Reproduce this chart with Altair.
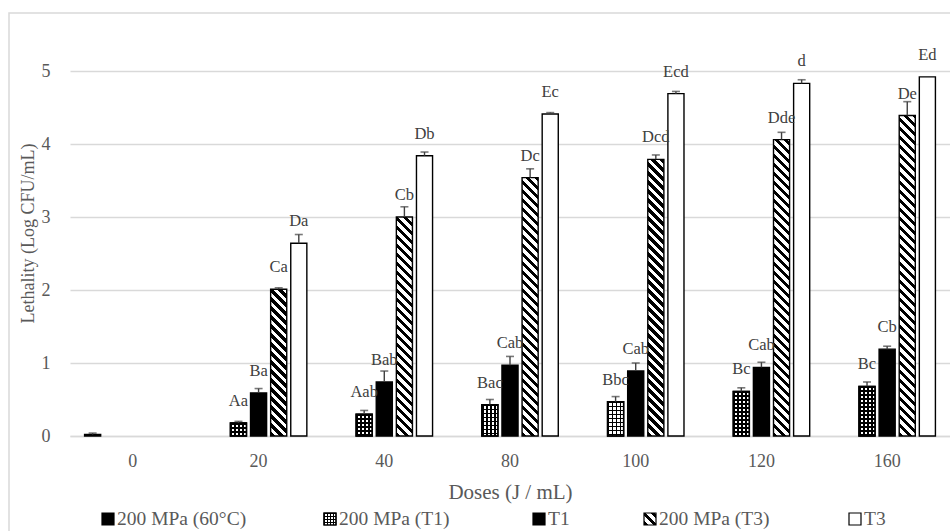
import altair as alt

# ---------------- data ----------------
doses = ["0", "20", "40", "80", "100", "120", "160"]
series = ["200 MPa (60°C)", "200 MPa (T1)", "T1", "200 MPa (T3)", "T3"]

val_60c = [0.02, None, None, None, None, None, None]
err_60c = [0.02, None, None, None, None, None, None]
lab_60c = ["", None, None, None, None, None, None]

val_p_t1 = [None, 0.18, 0.30, 0.43, 0.47, 0.61, 0.68]
err_p_t1 = [None, 0.02, 0.05, 0.07, 0.07, 0.05, 0.06]
lab_p_t1 = [None, "Aa", "Aab", "Bac", "Bbc", "Bc", "Bc"]

val_t1 = [None, 0.59, 0.74, 0.97, 0.89, 0.94, 1.19]
err_t1 = [None, 0.06, 0.15, 0.12, 0.11, 0.07, 0.04]
lab_t1 = [None, "Ba", "Bab", "Cab", "Cab", "Cab", "Cb"]

val_p_t3 = [None, 2.01, 3.00, 3.54, 3.79, 4.06, 4.39]
err_p_t3 = [None, 0.02, 0.14, 0.12, 0.06, 0.10, 0.19]
lab_p_t3 = [None, "Ca", "Cb", "Dc", "Dcd", "Dde", "De"]

val_t3 = [None, 2.64, 3.84, 4.41, 4.69, 4.83, 4.92]
err_t3 = [None, 0.12, 0.05, 0.02, 0.03, 0.05, 0.00]
lab_t3 = [None, "Da", "Db", "Ec", "Ecd", "d", "Ed"]

y_ticks = [0, 1, 2, 3, 4, 5]

# ---------------- layout / style ----------------
W, H = 880, 365
Y_MAX = 5
FONT = "Liberation Serif"
GRAY = "#595959"
LABEL = "#404040"
GRID = "#d9d9d9"

PAD_IN, PAD_OUT = 0.2, 0.1
step = W / (len(doses) - PAD_IN + 2 * PAD_OUT)
band = step * (1 - PAD_IN)
off_step = band / (len(series) - PAD_IN + 2 * PAD_OUT)
BAR_W = off_step * (1 - PAD_IN)


def _stops(n_periods, frac_on, on, off):
    stops = []
    i = 0
    while i < n_periods:
        a = i / n_periods
        b = min((i + frac_on) / n_periods, 1)
        c = min((i + 1) / n_periods, 1)
        stops += [
            {"offset": round(a, 5), "color": on},
            {"offset": round(b, 5), "color": on},
            {"offset": round(b, 5), "color": off},
            {"offset": round(c, 5), "color": off},
        ]
        i += 1
    return stops


def stripes(w, h, period=9.0, slope=1.0):
    span = slope * w + h
    k = span / (slope ** 2 * w ** 2 + h ** 2)
    return {"gradient": "linear", "x1": 0, "y1": 1,
            "x2": round(k * slope * w, 6), "y2": round(1 - k * h, 6),
            "stops": _stops(span / period, 0.5, "black", "white")}


def vlines(w, period=4.0):
    return {"gradient": "linear", "x1": 0, "y1": 0, "x2": 1, "y2": 0,
            "stops": _stops(w / period, 0.45, "black", "white")}


def hlines(h, period=4.0):
    return {"gradient": "linear", "x1": 0, "y1": 0, "x2": 0, "y2": 1,
            "stops": _stops(max(h, 1) / period, 0.45, "black", "rgba(0,0,0,0)")}


styles = ["black", "cross", "black", "stripes", "white"]
table = [
    (val_60c, err_60c, lab_60c),
    (val_p_t1, err_p_t1, lab_p_t1),
    (val_t1, err_t1, lab_t1),
    (val_p_t3, err_p_t3, lab_p_t3),
    (val_t3, err_t3, lab_t3),
]

records = []
for s, style, (vals, errs, labs) in zip(series, styles, table):
    for d, v, e, lab in zip(doses, vals, errs, labs):
        if v is None:
            continue
        hpx = v / Y_MAX * H
        rec = {"dose": d, "series": s, "value": v, "hi": v + (e or 0),
               "err": e or 0, "label": lab or ""}
        if style == "stripes":
            rec["fill"] = stripes(BAR_W, hpx)
        elif style == "cross":
            rec["fill"] = vlines(BAR_W)
            rec["over"] = hlines(hpx)
        else:
            rec["fill"] = style
        records.append(rec)

data = alt.Data(values=records)

X = alt.X("dose:N", sort=doses,
          scale=alt.Scale(domain=doses, paddingInner=PAD_IN, paddingOuter=PAD_OUT),
          axis=alt.Axis(title="Doses (J / mL)", labelAngle=0, ticks=False,
                        domain=True, domainColor=GRID, domainWidth=1.5,
                        labelFontSize=18, labelColor=GRAY, labelPadding=16,
                        titleFontSize=21, titleColor=GRAY, titleFontWeight="normal",
                        titlePadding=11, labelFont=FONT, titleFont=FONT))
XO = alt.XOffset("series:N", sort=series,
                 scale=alt.Scale(domain=series, paddingInner=PAD_IN, paddingOuter=PAD_OUT))
y_axis = alt.Axis(title="Lethality (Log CFU/mL)", values=y_ticks, grid=True,
                  gridColor=GRID, gridWidth=1.5, domain=False, ticks=False,
                  labelPadding=20, labelFontSize=18, labelColor=GRAY, labelFont=FONT,
                  titleFontSize=18, titleColor=GRAY, titleFontWeight="normal",
                  titleFont=FONT, titlePadding=4, titleY=162)
yscale = alt.Scale(domain=[0, Y_MAX], nice=False)


def Y(field):
    return alt.Y(field, scale=yscale, axis=y_axis, title="Lethality (Log CFU/mL)")


base = alt.Chart(data)

bars = base.mark_bar(stroke="black", strokeWidth=1.4).encode(
    x=X, xOffset=XO, y=Y("value:Q"), fill=alt.Fill("fill:N", scale=None))

cross = base.transform_filter("datum.over != null").mark_bar(
    stroke="black", strokeWidth=1.4).encode(
    x=X, xOffset=XO, y=Y("value:Q"), fill=alt.Fill("over:N", scale=None))

err_line = base.transform_filter("datum.err > 0").mark_rule(
    color=LABEL, strokeWidth=1.4).encode(
    x=X, xOffset=XO, y=Y("value:Q"), y2="hi:Q")

err_cap = base.transform_filter("datum.err > 0").mark_tick(
    color=LABEL, thickness=1.6, size=8, orient="horizontal").encode(
    x=X, xOffset=XO, y=Y("hi:Q"))

labels = base.mark_text(dy=-22, baseline="middle", fontSize=16.5, color=LABEL,
                        font=FONT).encode(
    x=X, xOffset=XO, y=Y("value:Q"), text="label:N")

one = alt.Data(values=[{"k": 1}])
border = alt.Chart(one).mark_rect(fillOpacity=0, stroke=GRID, strokeWidth=1.5).encode(
    x=alt.value(-61), x2=alt.value(W + 40), y=alt.value(-58), y2=alt.value(H + 140))

# ---------------- custom legend ----------------
leg_x = [32, 254, 463, 574, 779]
leg_fill = ["black", vlines(12, 3.0), "black", stripes(12, 12, 9.0), "white"]
legend_layers = []
for name, lx, f, style in zip(series, leg_x, leg_fill, styles):
    legend_layers.append(alt.Chart(one).mark_rect(stroke="black", strokeWidth=1.2).encode(
        x=alt.value(lx), x2=alt.value(lx + 12), y=alt.value(442), y2=alt.value(454),
        fill=alt.value(f)))
    if style == "cross":
        legend_layers.append(alt.Chart(one).mark_rect(stroke="black", strokeWidth=1.2).encode(
            x=alt.value(lx), x2=alt.value(lx + 12), y=alt.value(442), y2=alt.value(454),
            fill=alt.value(hlines(12, 3.0))))
    legend_layers.append(alt.Chart(one).mark_text(
        align="left", baseline="middle", fontSize=19.5, color=GRAY, font=FONT).encode(
        x=alt.value(lx + 15), y=alt.value(448), text=alt.value(name)))

chart = alt.layer(border, bars, cross, err_line, err_cap, labels, *legend_layers).properties(
    width=W, height=H,
    autosize=alt.AutoSizeParams(type="none"),
    padding={"left": 70, "top": 71, "right": 0, "bottom": 95},
).configure(font=FONT).configure_view(strokeWidth=0)

chart.save("out.html", embed_options={"renderer": "svg", "actions": False})
